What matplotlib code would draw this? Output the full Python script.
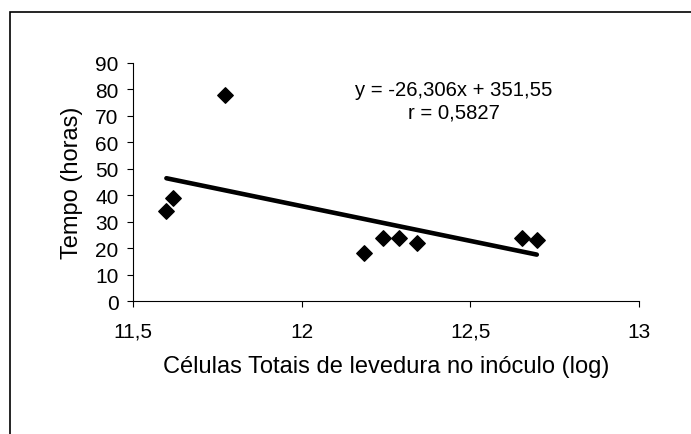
import matplotlib
matplotlib.use("Agg")
import matplotlib.pyplot as plt
from matplotlib.patches import Rectangle

plt.rcParams['font.family'] = ['Liberation Sans', 'DejaVu Sans']

# Data
celulas_log = [11.599, 11.619, 11.773, 12.186, 12.24, 12.29, 12.342, 12.653, 12.697]
tempo_horas = [34, 39, 78, 18, 24, 24, 22, 24, 23]

# Linear trend from the annotation
slope = -26.306
intercept = 351.55
equation_text = "y = -26,306x + 351,55\nr = 0,5827"

x_ticks = [11.5, 12, 12.5, 13]
x_tick_labels = ["11,5", "12", "12,5", "13"]
y_ticks = [0, 10, 20, 30, 40, 50, 60, 70, 80, 90]
y_tick_labels = ["0", "10", "20", "30", "40", "50", "60", "70", "80", "90"]

fig = plt.figure(figsize=(6.91, 4.35), dpi=100)
ax = fig.add_axes([133 / 691, 1 - 302 / 435, 506 / 691, 238 / 435])

# outer chart frame
fig.patches.append(Rectangle((10 / 691, -0.1), 1.2, 1.1 - 13 / 435,
                             transform=fig.transFigure, fill=False,
                             edgecolor='black', linewidth=1.2))

ax.scatter(celulas_log, tempo_horas, marker='D', s=62, color='black', zorder=3)

x_fit = [min(celulas_log), max(celulas_log)]
y_fit = [slope * v + intercept for v in x_fit]
ax.plot(x_fit, y_fit, color='black', linewidth=3.3, solid_capstyle='round')

ax.text(12.45, 75.8, equation_text, ha='center', va='center', fontsize=14.6,
        linespacing=1.2)

ax.set_xlim(11.5, 13)
ax.set_ylim(0, 90)
ax.set_xticks(x_ticks)
ax.set_xticklabels(x_tick_labels)
ax.set_yticks(y_ticks)
ax.set_yticklabels(y_tick_labels)
ax.tick_params(axis='x', direction='out', length=4, width=0.8, pad=11, labelsize=15)
ax.tick_params(axis='y', direction='out', length=4.5, width=0.8, pad=6, labelsize=15)

ax.spines['top'].set_visible(False)
ax.spines['right'].set_visible(False)
ax.spines['left'].set_linewidth(0.8)
ax.spines['bottom'].set_linewidth(0.8)

ax.set_xlabel("Células Totais de levedura no inóculo (log)", fontsize=17, labelpad=10)
ax.set_ylabel("Tempo (horas)", fontsize=17, labelpad=9)

fig.savefig("out.png", dpi=100)
